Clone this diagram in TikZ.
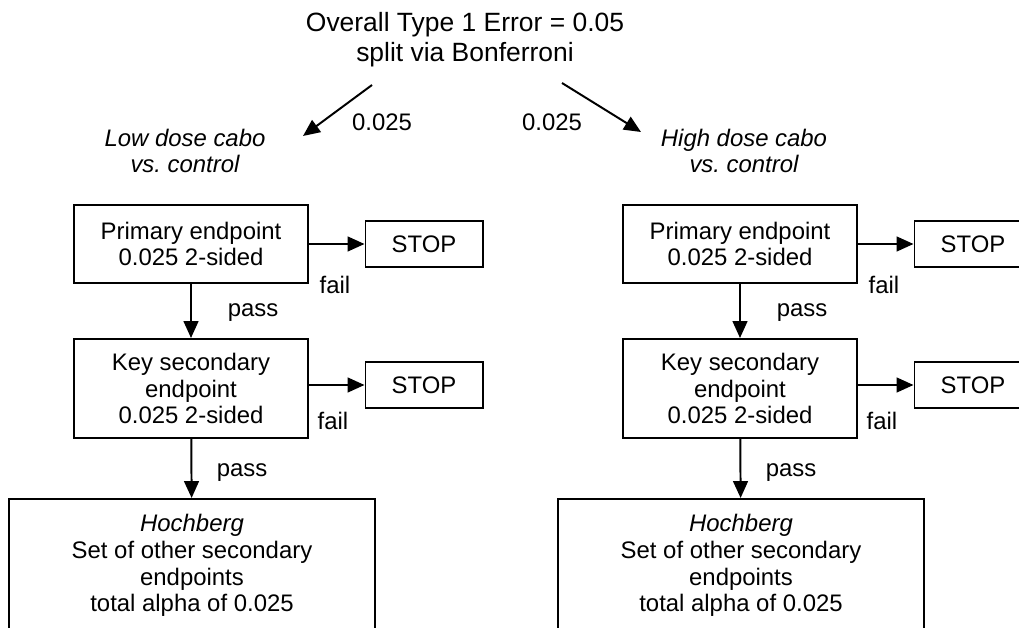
\documentclass[tikz,border=0pt]{standalone}
\usepackage{fontspec}
\setmainfont{Liberation Sans}
\usetikzlibrary{arrows.meta}

\begin{document}
\begin{tikzpicture}[x=0.025cm, y=-0.025cm, line width=1.4pt, >={Triangle[length=12pt,width=10.5pt]},
	every node/.style={font=\fontsize{17}{19}\selectfont, align=center, inner sep=0pt},
	box/.style={draw, minimum width=5.825cm},
	stopbox/.style={draw, minimum width=2.925cm, minimum height=1.15cm}]
	\useasboundingbox (0,0) rectangle (1019,628);
	\node[font=\fontsize{18.8}{21.3}\selectfont] (title) at (465,40) {Overall Type 1 Error = 0.05\\split via Bonferroni};
	\coordinate (aL0) at (372,85); \coordinate (aL1) at (303,136);
	\coordinate (aR0) at (562,83); \coordinate (aR1) at (641,132);
	\draw[->] (aL0) -- (aL1); \draw[->] (aR0) -- (aR1);
	\node (splitL) at (382,122) {0.025}; \node (splitR) at (552,122) {0.025};
	\foreach \side/\cx/\lx/\arm in {L/191/185/Low, R/740/744/High} {
		\node[font=\fontsize{17}{19}\selectfont\itshape] (arm\side) at (\lx,151) {\arm{} dose cabo\\vs.~control};
		\node[box, minimum height=1.95cm] (p\side) at (\cx,244) {Primary endpoint\\0.025 2-sided};
		\node[stopbox] (s\side) at (\cx+233,244) {STOP};
		\node[box, minimum height=2.475cm] (k\side) at (\cx,388.5) {Key secondary\\endpoint\\0.025 2-sided};
		\node[stopbox] (t\side) at (\cx+233,385) {STOP};
		\node[box, minimum width=9.15cm, minimum height=3.325cm] (h\side) at (\cx+1,565.5) {{\itshape Hochberg}\\Set of other secondary\\endpoints\\total alpha of 0.025};
		\draw[->] (p\side) -- (s\side); \draw[->] (k\side.east |- t\side) -- (t\side);
		\draw[->] (p\side) -- (k\side); \draw[->] (k\side) -- (h\side);
		\node (fa\side) at (\cx+144,285) {fail}; \node (pa\side) at (\cx+62,313) {pass};
		\node (fb\side) at (\cx+142,421) {fail}; \node (pb\side) at (\cx+51,473) {pass};
	}
\end{tikzpicture}
\end{document}
